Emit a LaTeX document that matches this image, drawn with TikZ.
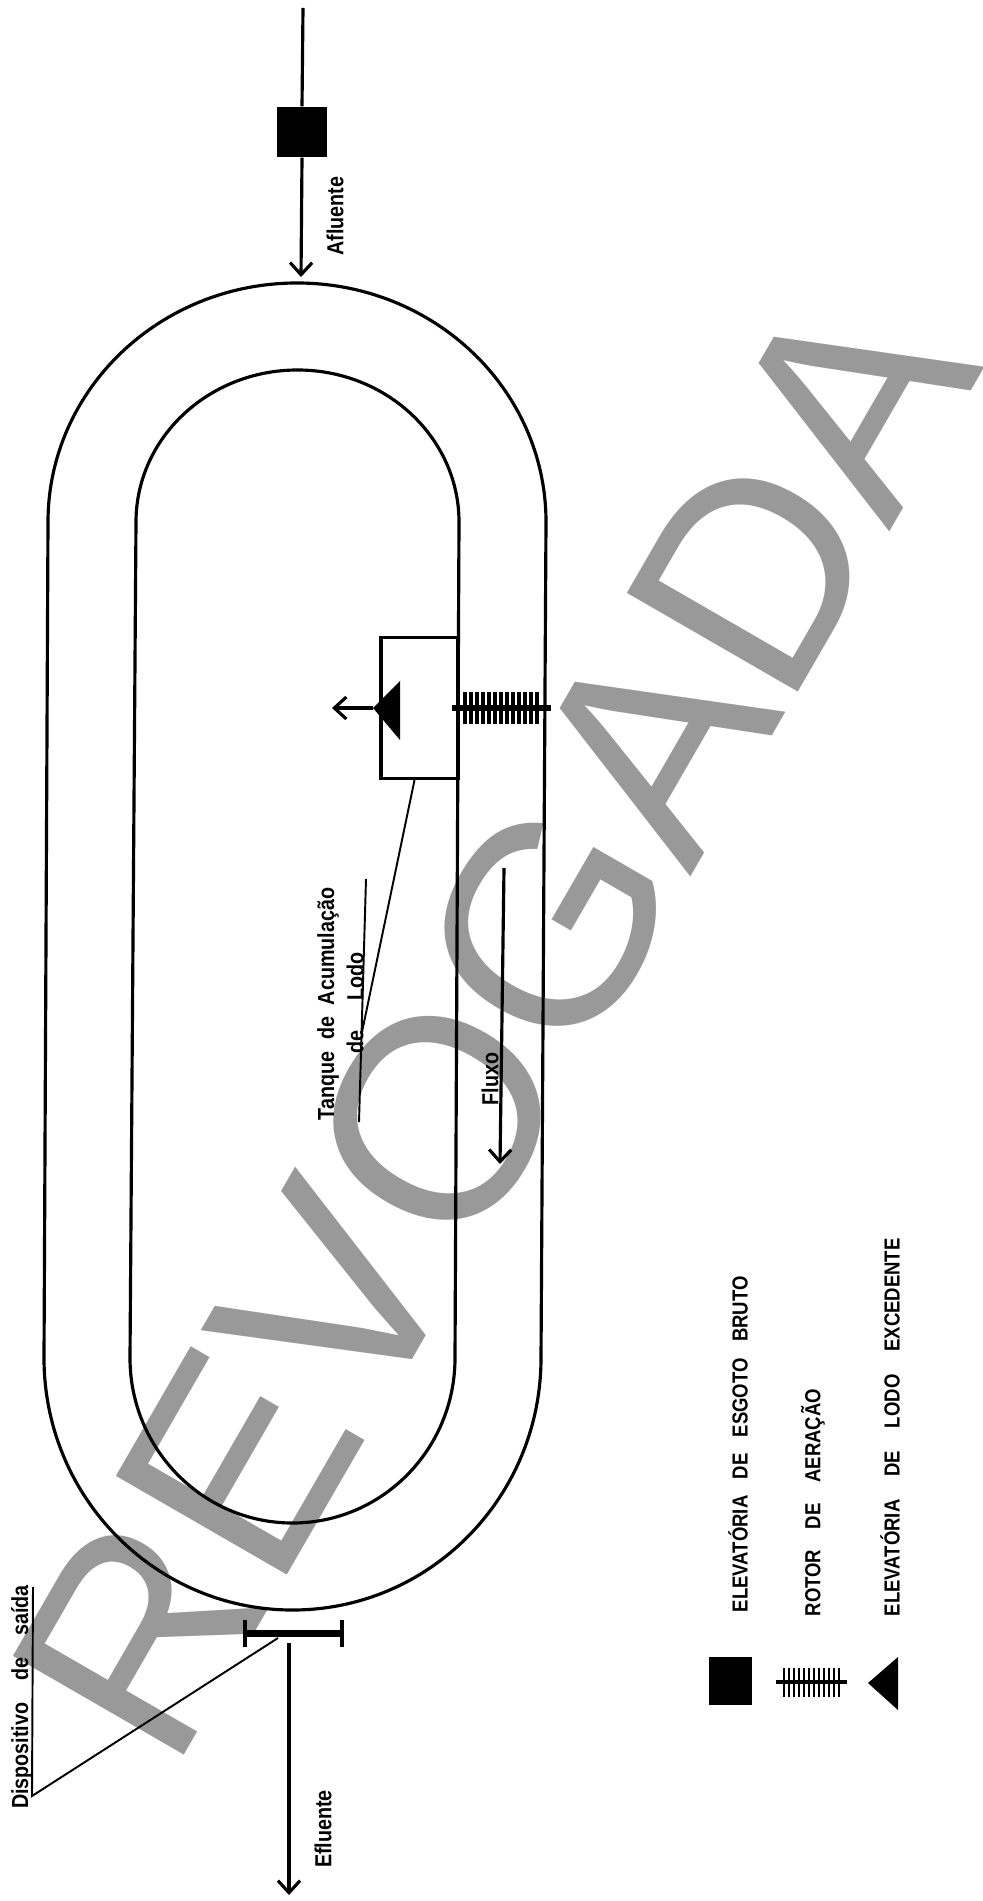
\documentclass[tikz,border=0pt]{standalone}
\usepackage{fontspec}
\setmainfont{Liberation Sans}
\newfontfamily\lblfont[FakeStretch=0.85]{Liberation Sans}
\newcommand{\wgap}{\hspace{0.95em}}
\usetikzlibrary{arrows.meta}
\definecolor{stamp}{HTML}{999999}

\begin{document}
\begin{tikzpicture}[
  x=0.01cm, y=-0.01cm,
  wall/.style={line width=0.9pt},
  arr/.style={line width=0.9pt, -{Straight Barb[length=1.2mm, width=2.2mm, line width=0.9pt]}},
  thin line/.style={line width=0.55pt},
  lbl/.style={rotate=90, inner sep=0pt, font=\fontsize{6.6}{8}\lblfont\bfseries},
  legend/.style={rotate=90, inner sep=0pt, anchor=west, font=\fontsize{6.2}{8}\lblfont\bfseries},
  pump/.style={fill=black, inner sep=0pt, minimum width=0.5cm, minimum height=0.5cm},
  watermark/.style={rotate=60, anchor=base west, inner sep=0pt, text=stamp,
                    font=\fontsize{81.6}{90}\selectfont},
]
  \useasboundingbox (0,0) rectangle (982,1901);
  \clip (0,0) rectangle (982,1901);

  \node[watermark] (stamptext) at (172,1776) {REVOGADA};

  % ditch walls
  \draw[wall] (48,522) arc[start angle=180, delta angle=180, x radius=249, y radius=239]
    -- (541,1358) arc[start angle=0, delta angle=180, x radius=248.5, y radius=252] -- cycle;
  \draw[wall] (136,522) arc[start angle=180, delta angle=180, x radius=161.5, y radius=152]
    -- (455,1358) arc[start angle=0, delta angle=180, x radius=162.5, y radius=165] -- cycle;

  % inlet
  \coordinate (inTop) at (303,8);
  \coordinate (inEnd) at (301,277);
  \node[pump] (inPump) at (302,132) {};
  \draw[wall] (inTop) -- (inPump.north);
  \draw[arr] (inPump.south) -- (inEnd);
  \node[lbl] (afl) at (335,216) {Afluente};

  % sludge tank
  \node[draw, wall, inner sep=0pt, minimum width=0.77cm, minimum height=1.41cm] (tank) at (419.5,708) {};
  \coordinate (triTip) at (373,708);
  \coordinate (sludgeEnd) at (332,708);
  \fill (triTip) -- (400,681) -- (400,740) -- cycle;
  \draw[arr] (triTip) -- (sludgeEnd);

  % rotor
  \coordinate (rotA) at (452,708);
  \coordinate (rotB) at (551,708);
  \draw[line width=1.7pt] (rotA) -- (rotB);
  \foreach \tx in {465,471,...,537}
    \draw[line width=0.9pt] (\tx,692) -- (\tx,724);

  % tank label
  \coordinate (tankRuleA) at (366,879);
  \coordinate (tankRuleB) at (359,1122);
  \coordinate (tankTip) at (362,1032);
  \draw[thin line] (tankRuleA) -- (tankRuleB);
  \draw[thin line] ([xshift=-0.05cm]tank.south) -- (tankTip);
  \node[lbl] (tankTxt) at (328,1004) {Tanque\hspace{0.5em}de\hspace{0.5em}Acumulação};
  \node[lbl] (tankTxtB) at (355,1003) {de\hspace{1.3em}Lodo};

  % flow
  \coordinate (flowA) at (504,868);
  \coordinate (flowB) at (500,1164);
  \draw[arr] (flowA) -- (flowB);
  \node[lbl] (fluxo) at (490,1079) {Fluxo};

  % outlet
  \coordinate (barL) at (245,1633);
  \coordinate (barR) at (342,1633);
  \coordinate (outA) at (289,1643);
  \coordinate (outB) at (289,1895);
  \draw[line width=2pt] (barL) -- (barR);
  \draw[line width=1.1pt] ([yshift=0.13cm]barL) -- ([yshift=-0.14cm]barL);
  \draw[line width=1.1pt] ([yshift=0.13cm]barR) -- ([yshift=-0.14cm]barR);
  \draw[arr] (outA) -- (outB);
  \node[lbl] (efl) at (323,1829) {Efluente};

  \coordinate (devTip) at (278,1638);
  \coordinate (devFoot) at (32,1796);
  \coordinate (devTop) at (33,1587);
  \draw[thin line] (devTip) -- (devFoot) -- (devTop);
  \node[lbl] (dev) at (22,1697) {Dispositivo\wgap de\wgap saída};

  % legend
  \node[pump, minimum width=0.43cm, minimum height=0.48cm] (legPump) at (730.5,1681) {};
  \coordinate (legRotA) at (776,1682);
  \coordinate (legRotB) at (847,1682);
  \draw[line width=1.3pt] (legRotA) -- (legRotB);
  \foreach \tx in {784,789,...,841}
    \draw[line width=0.8pt] (\tx,1668) -- (\tx,1697);
  \fill (868,1683) -- (898,1657) -- (898,1710) -- cycle;

  \node[legend] (legA) at (738,1613) {ELEVATÓRIA\hspace{0.75em}DE\hspace{0.75em}ESGOTO\hspace{0.75em}BRUTO};
  \node[legend] (legB) at (813,1617) {ROTOR\wgap DE\wgap AERAÇÃO};
  \node[legend] (legC) at (890,1617) {ELEVATÓRIA\hspace{1.05em}DE\hspace{1.05em}LODO\hspace{1.05em}EXCEDENTE};
\end{tikzpicture}
\end{document}
